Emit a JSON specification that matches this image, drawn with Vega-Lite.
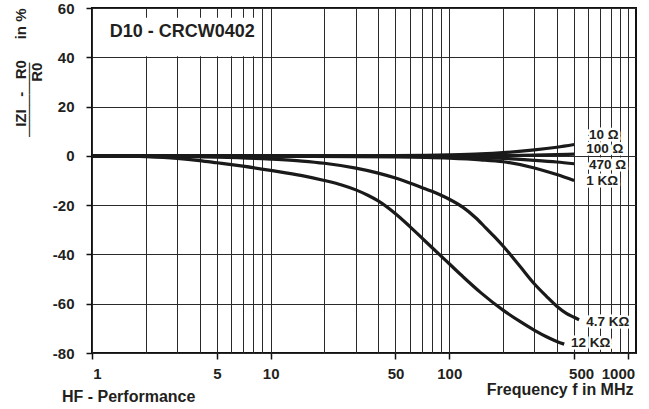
{
  "$schema": "https://vega.github.io/schema/vega-lite/v6.json",
  "width": 544,
  "height": 345,
  "autosize": "none",
  "padding": {"left": 92, "top": 8, "right": 13, "bottom": 56},
  "background": "white",
  "config": {
    "font": "Liberation Sans",
    "view": {"stroke": "#111111", "strokeWidth": 2}
  },
  "title": {
    "text": "HF - Performance",
    "orient": "bottom",
    "anchor": "start",
    "frame": "group",
    "dx": -30,
    "dy": -12,
    "fontSize": 16,
    "fontWeight": "bold",
    "color": "#231f20"
  },
  "datasets": {
    "curves": [
      {"r": "10", "f": 1, "v": 0}, {"r": "10", "f": 2, "v": 0}, {"r": "10", "f": 5, "v": 0}, {"r": "10", "f": 10, "v": 0}, {"r": "10", "f": 20, "v": 0}, {"r": "10", "f": 50, "v": 0.1}, {"r": "10", "f": 100, "v": 0.4}, {"r": "10", "f": 150, "v": 0.8}, {"r": "10", "f": 200, "v": 1.3}, {"r": "10", "f": 300, "v": 2.4}, {"r": "10", "f": 400, "v": 3.5}, {"r": "10", "f": 500, "v": 4.6},
      {"r": "100", "f": 1, "v": 0}, {"r": "100", "f": 10, "v": 0}, {"r": "100", "f": 100, "v": 0}, {"r": "100", "f": 200, "v": 0.1}, {"r": "100", "f": 300, "v": 0.3}, {"r": "100", "f": 400, "v": 0.5}, {"r": "100", "f": 500, "v": 0.7},
      {"r": "470", "f": 1, "v": 0}, {"r": "470", "f": 10, "v": 0}, {"r": "470", "f": 50, "v": -0.1}, {"r": "470", "f": 100, "v": -0.3}, {"r": "470", "f": 200, "v": -1.0}, {"r": "470", "f": 300, "v": -1.8}, {"r": "470", "f": 400, "v": -2.5}, {"r": "470", "f": 500, "v": -3.2},
      {"r": "1K", "f": 1, "v": 0}, {"r": "1K", "f": 10, "v": -0.1}, {"r": "1K", "f": 50, "v": -0.4}, {"r": "1K", "f": 100, "v": -0.9}, {"r": "1K", "f": 150, "v": -1.6}, {"r": "1K", "f": 200, "v": -2.4}, {"r": "1K", "f": 300, "v": -4.9}, {"r": "1K", "f": 400, "v": -7.6}, {"r": "1K", "f": 500, "v": -10.0},
      {"r": "4.7K", "f": 1, "v": 0}, {"r": "4.7K", "f": 3, "v": -0.2}, {"r": "4.7K", "f": 5, "v": -0.5}, {"r": "4.7K", "f": 10, "v": -1.3}, {"r": "4.7K", "f": 15, "v": -2.1}, {"r": "4.7K", "f": 20, "v": -3.0}, {"r": "4.7K", "f": 30, "v": -5.0}, {"r": "4.7K", "f": 40, "v": -7.0}, {"r": "4.7K", "f": 50, "v": -9.0}, {"r": "4.7K", "f": 60, "v": -11.0}, {"r": "4.7K", "f": 70, "v": -12.8}, {"r": "4.7K", "f": 80, "v": -14.4}, {"r": "4.7K", "f": 90, "v": -16.0}, {"r": "4.7K", "f": 100, "v": -17.6}, {"r": "4.7K", "f": 120, "v": -21.0}, {"r": "4.7K", "f": 140, "v": -25.0}, {"r": "4.7K", "f": 160, "v": -29.2}, {"r": "4.7K", "f": 180, "v": -33.0}, {"r": "4.7K", "f": 200, "v": -36.6}, {"r": "4.7K", "f": 250, "v": -45.0}, {"r": "4.7K", "f": 300, "v": -52.0}, {"r": "4.7K", "f": 350, "v": -57.0}, {"r": "4.7K", "f": 400, "v": -61.0}, {"r": "4.7K", "f": 450, "v": -63.8}, {"r": "4.7K", "f": 500, "v": -65.5}, {"r": "4.7K", "f": 533, "v": -66.5},
      {"r": "12K", "f": 1, "v": 0}, {"r": "12K", "f": 1.5, "v": -0.05}, {"r": "12K", "f": 2, "v": -0.3}, {"r": "12K", "f": 3, "v": -1.0}, {"r": "12K", "f": 4, "v": -1.9}, {"r": "12K", "f": 5, "v": -2.8}, {"r": "12K", "f": 7, "v": -4.2}, {"r": "12K", "f": 10, "v": -5.9}, {"r": "12K", "f": 15, "v": -8.0}, {"r": "12K", "f": 20, "v": -10.0}, {"r": "12K", "f": 25, "v": -11.8}, {"r": "12K", "f": 30, "v": -13.8}, {"r": "12K", "f": 35, "v": -16.0}, {"r": "12K", "f": 40, "v": -18.3}, {"r": "12K", "f": 50, "v": -23.5}, {"r": "12K", "f": 60, "v": -28.6}, {"r": "12K", "f": 70, "v": -33.2}, {"r": "12K", "f": 80, "v": -37.2}, {"r": "12K", "f": 90, "v": -40.7}, {"r": "12K", "f": 100, "v": -43.8}, {"r": "12K", "f": 120, "v": -49.2}, {"r": "12K", "f": 150, "v": -55.5}, {"r": "12K", "f": 200, "v": -62.6}, {"r": "12K", "f": 250, "v": -67.3}, {"r": "12K", "f": 300, "v": -70.8}, {"r": "12K", "f": 350, "v": -73.4}, {"r": "12K", "f": 400, "v": -75.3}, {"r": "12K", "f": 440, "v": -76.4}
    ],
    "labels": [
      {"t": "10 Ω", "f": 605, "v": 8.3},
      {"t": "100 Ω", "f": 584, "v": 2.6},
      {"t": "470 Ω", "f": 605, "v": -3.9},
      {"t": "1 KΩ", "f": 584, "v": -10.3},
      {"t": "4.7 KΩ", "f": 584, "v": -67.6},
      {"t": "12 KΩ", "f": 480, "v": -76.0}
    ]
  },
  "layer": [
    {
      "data": {"name": "curves"},
      "mark": {"type": "line", "strokeWidth": 3.2, "color": "#1a1a1a", "interpolate": "monotone"},
      "encoding": {
        "x": {
          "field": "f",
          "type": "quantitative",
          "scale": {"type": "log", "domain": [1, 1110], "nice": false},
          "axis": {
            "values": [1, 2, 3, 4, 5, 6, 7, 8, 9, 10, 20, 30, 40, 50, 60, 70, 80, 90, 100, 200, 300, 400, 500, 600, 700, 800, 900, 1000],
            "format": "d",
            "labelExpr": "indexof([1,5,10,50,100,500,1000], datum.value) >= 0 ? datum.label : ''",
            "grid": true,
            "gridColor": "#2a2a2a",
            "gridWidth": 1,
            "domain": false,
            "tickSize": 6,
            "tickWidth": 1.5,
            "tickColor": "#111111",
            "tickOpacity": {"condition": {"test": "indexof([1,5,10,50,100,500,1000], datum.value) >= 0", "value": 1}, "value": 0},
            "labelFontSize": 15,
            "labelFontWeight": "bold",
            "labelColor": "#231f20",
            "labelPadding": 7,
            "labelOverlap": false,
            "labelFlush": false,
            "labelBound": false,
            "labelOffset": {"condition": [{"test": "datum.value == 1", "value": 5}, {"test": "datum.value == 500", "value": 7}, {"test": "datum.value == 1000", "value": -10}], "value": 0},
            "title": "Frequency f in MHz",
            "titleAnchor": "end",
            "titleAlign": "right",
            "titleBaseline": "alphabetic",
            "titleX": 541,
            "titleY": 41,
            "titleFontSize": 16,
            "titleFontWeight": "bold",
            "titleColor": "#231f20"
          }
        },
        "y": {
          "field": "v",
          "type": "quantitative",
          "scale": {"domain": [-80, 60], "nice": false},
          "axis": {
            "values": [-80, -60, -40, -20, 0, 20, 40, 60],
            "labelExpr": "'' + datum.value",
            "grid": true,
            "gridColor": "#2a2a2a",
            "gridWidth": 1,
            "domain": false,
            "tickSize": 6,
            "tickWidth": 1.5,
            "tickColor": "#111111",
            "labelFontSize": 15,
            "labelFontWeight": "bold",
            "labelColor": "#231f20",
            "labelPadding": 12,
            "title": ["IZI\u00a0\u00a0\u00a0-\u00a0\u00a0\u00a0R0\u00a0\u00a0\u00a0\u00a0\u00a0in %", "───────\u00a0\u00a0\u00a0\u00a0\u00a0\u00a0\u00a0\u00a0\u00a0\u00a0\u00a0\u00a0\u00a0\u200b", "R0\u00a0\u00a0\u00a0\u00a0\u00a0\u00a0\u00a0\u00a0\u00a0\u00a0\u00a0\u00a0\u00a0\u200b"],
            "titleAngle": 270,
            "titleAlign": "right",
            "titleBaseline": "bottom",
            "titleLineHeight": 8,
            "titleX": -64,
            "titleY": 0,
            "titleFontSize": 15,
            "titleFontWeight": "bold",
            "titleColor": "#231f20"
          }
        },
        "detail": {"field": "r"}
      }
    },
    {
      "data": {"values": [{}]},
      "mark": {"type": "rect", "fill": "white"},
      "encoding": {
        "x": {"datum": 1.02},
        "x2": {"datum": 8.7},
        "y": {"datum": 56},
        "y2": {"datum": 40.4}
      }
    },
    {
      "data": {"values": [{}]},
      "mark": {"type": "text", "fontSize": 18, "fontWeight": "bold", "color": "#231f20", "align": "center", "baseline": "middle"},
      "encoding": {
        "x": {"datum": 3.2},
        "y": {"datum": 50.4},
        "text": {"value": "D10 - CRCW0402"}
      }
    },
    {
      "data": {"name": "labels"},
      "mark": {"type": "text", "fontSize": 13.5, "fontWeight": "bold", "align": "left", "baseline": "middle", "stroke": "white", "strokeWidth": 5, "strokeJoin": "round", "fill": "white"},
      "encoding": {
        "x": {"field": "f", "type": "quantitative"},
        "y": {"field": "v", "type": "quantitative"},
        "text": {"field": "t"}
      }
    },
    {
      "data": {"name": "labels"},
      "mark": {"type": "text", "fontSize": 13.5, "fontWeight": "bold", "align": "left", "baseline": "middle", "color": "#231f20"},
      "encoding": {
        "x": {"field": "f", "type": "quantitative"},
        "y": {"field": "v", "type": "quantitative"},
        "text": {"field": "t"}
      }
    }
  ]
}
